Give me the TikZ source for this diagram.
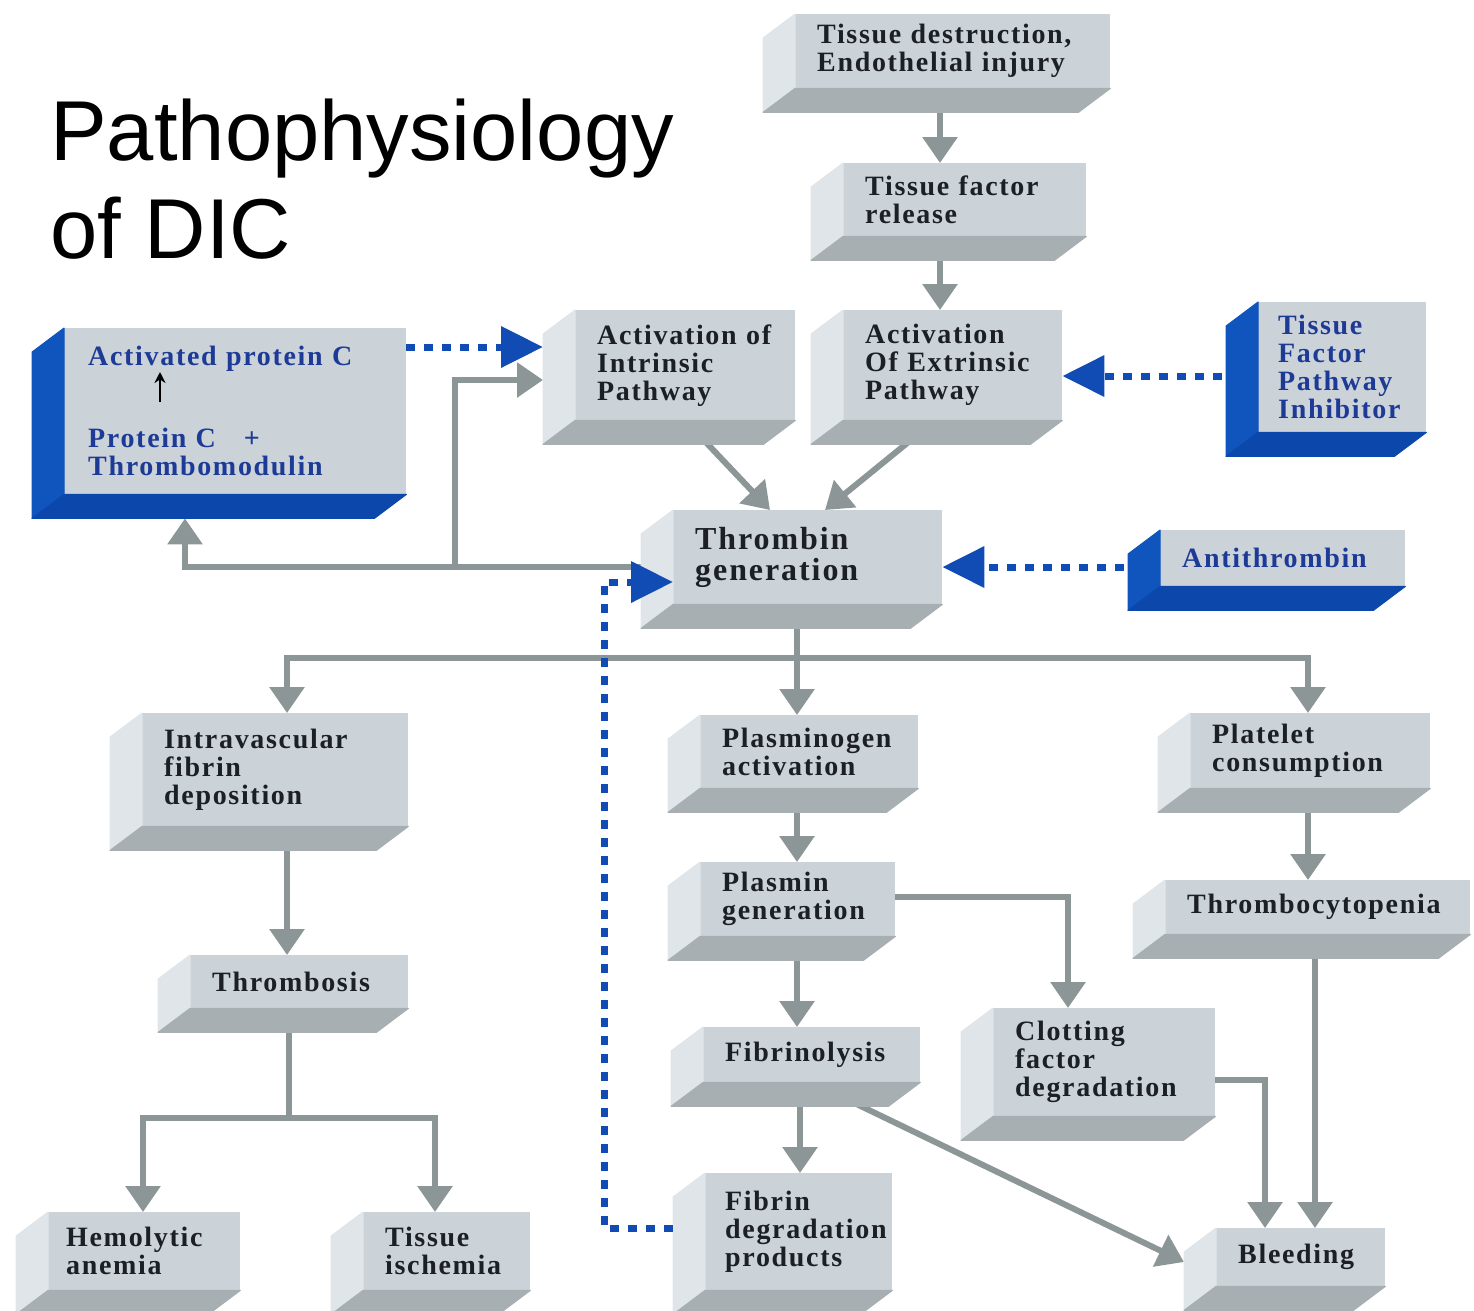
\documentclass[tikz,border=0pt]{standalone}
\usepackage{fontspec}
\setmainfont{Liberation Serif}
\newfontfamily\titlefont{Liberation Sans}
\newfontfamily\boxfont[LetterSpace=6]{Liberation Serif}
\usetikzlibrary{arrows.meta,backgrounds}
\definecolor{front}{RGB}{203,210,216}
\definecolor{sidel}{RGB}{224,229,233}
\definecolor{sideb}{RGB}{168,175,179}
\definecolor{bluebox}{RGB}{16,84,190}
\definecolor{bluebot}{RGB}{12,72,172}
\definecolor{ink}{RGB}{28,32,36}
\definecolor{bink}{RGB}{28,58,150}
\definecolor{link}{RGB}{140,150,150}
\definecolor{dotc}{RGB}{16,76,180}

\begin{document}
\begin{tikzpicture}[x=1pt, y=-1pt,
  blk/.style={rectangle, fill=front, anchor=north west, align=left,
              inner xsep=22pt, inner ysep=0pt, text=ink,
              font=\boxfont\bfseries\fontsize{28}{28}\selectfont},
  bblk/.style={blk, text=bink},
  face/.style={fill=#1, draw=#1, line width=1pt, line join=round},
  gline/.style={draw=link, line width=6pt},
  garrow/.style={gline, -{Triangle[length=26pt,width=34pt]}},
  barrow/.style={draw=dotc, line width=7pt, dash pattern=on 9pt off 9pt,
                 -{Triangle[length=42pt,width=40pt]}},
  ]
  \clip (0,0) rectangle (1474,1310);

  \node[anchor=base west, inner sep=0pt, font=\titlefont\fontsize{85}{98}\selectfont]
        (ttl) at (50,160) {Pathophysiology};
  \node[anchor=base west, inner sep=0pt, font=\titlefont\fontsize{85}{98}\selectfont]
        (ttl2) at (50,258) {of DIC};

  \node[blk, text width=271pt, minimum height=74pt] (td) at (795,14) {Tissue~destruction,\\Endothelial~injury};
  \node[blk, text width=199pt, minimum height=73pt] (tf) at (843,163) {Tissue~factor\\release};
  \node[bblk, inner xsep=24pt, text width=294pt, minimum height=166pt] (apc) at (64,328)
        {Activated~protein~C\\[54pt]Protein~C\quad+\\Thrombomodulin};
  \node[blk, text width=176pt, minimum height=110pt] (ai) at (575,310) {Activation~of\\Intrinsic\\Pathway};
  \node[blk, text width=175pt, minimum height=110pt] (ae) at (843,310) {Activation\\Of~Extrinsic\\Pathway};
  \node[bblk, inner xsep=20pt, text width=128pt, minimum height=130pt] (tfpi) at (1258,302)
        {Tissue\\Factor\\Pathway\\Inhibitor};
  \node[blk, text width=225pt, minimum height=94pt, font=\boxfont\bfseries\fontsize{32}{31}\selectfont]
        (tg) at (673,510) {Thrombin\\generation};
  \node[bblk, text width=201pt, minimum height=56pt] (at) at (1160,530) {Antithrombin};
  \node[blk, text width=222pt, minimum height=113pt] (ivf) at (142,713) {Intravascular\\fibrin\\deposition};
  \node[blk, text width=174pt, minimum height=73pt] (plg) at (700,715) {Plasminogen\\activation};
  \node[blk, text width=196pt, minimum height=75pt] (plt) at (1190,713) {Platelet\\consumption};
  \node[blk, text width=151pt, minimum height=74pt] (pls) at (700,862) {Plasmin\\generation};
  \node[blk, text width=261pt, minimum height=54pt] (tcp) at (1165,880) {Thrombocytopenia};
  \node[blk, text width=174pt, minimum height=53pt] (thr) at (190,955) {Thrombosis};
  \node[blk, text width=173pt, minimum height=55pt] (fib) at (703,1027) {Fibrinolysis};
  \node[blk, text width=178pt, minimum height=108pt] (clt) at (993,1008) {Clotting\\factor\\degradation};
  \node[blk, inner xsep=18pt, text width=156pt, minimum height=78pt] (hem) at (48,1212) {Hemolytic\\anemia};
  \node[blk, text width=123pt, minimum height=78pt] (isc) at (363,1212) {Tissue\\ischemia};
  \node[blk, inner xsep=20pt, text width=147pt, minimum height=117pt] (fdp) at (705,1173) {Fibrin\\degradation\\products};
  \node[blk, text width=125pt, minimum height=58pt] (bld) at (1216,1228) {Bleeding};

  \foreach \b in {td,tf,ai,ae,tg,ivf,plg,plt,pls,tcp,thr,fib,clt,hem,isc,fdp,bld}{
    \filldraw[face=sidel] (\b.north west) -- ++(-32,24) -- ([shift={(-32,24)}]\b.south west) -- (\b.south west) -- cycle;
    \filldraw[face=sideb] (\b.south west) -- ++(-32,24) -- ([shift={(-32,24)}]\b.south east) -- (\b.south east) -- cycle;
  }
  \foreach \b in {apc,tfpi,at}{
    \filldraw[face=bluebox] (\b.north west) -- ++(-32,24) -- ([shift={(-32,24)}]\b.south west) -- (\b.south west) -- cycle;
    \filldraw[face=bluebot] (\b.south west) -- ++(-32,24) -- ([shift={(-32,24)}]\b.south east) -- (\b.south east) -- cycle;
  }

  \coordinate (pcb) at (160,402);
  \coordinate (pct) at (160,372);
  \draw[line width=2.5pt, -{Stealth[length=11pt,width=11pt]}] (pcb) -- (pct);

  \begin{scope}[on background layer]
    \coordinate (tgl) at (455,567);
    \coordinate (tgj) at (797,658);
    \coordinate (thj) at (289,1118);
    \draw[garrow] (td.south -| 940,0) -- (tf.north -| 940,0);
    \draw[garrow] (tf.south -| 940,0) -- (ae.north -| 940,0);
    \draw[garrow] (ai.south) -- (tg.north -| 770,0);
    \draw[garrow] (ae.south -| 935,0) -- (tg.north -| 825,0);
    \draw[garrow] (tg.west |- tgl) -| ([yshift=-24pt]apc.south -| 185,0);
    \draw[garrow] (tgl) |- ([xshift=-32pt]ai.west |- 0,380);
    \draw[gline] (tg.south -| tgj) -- (tgj);
    \draw[garrow] (tgj) -- (plg.north -| tgj);
    \draw[garrow] (tgj) -| (ivf.north -| 287,0);
    \draw[garrow] (tgj) -| (plt.north -| 1308,0);
    \draw[garrow] (ivf.south -| 287,0) -- (thr.north -| 287,0);
    \draw[gline] (thr.south -| thj) -- (thj);
    \draw[garrow] (thj) -| (hem.north -| 143,0);
    \draw[garrow] (thj) -| (isc.north -| 435,0);
    \draw[garrow] (plg.south -| 797,0) -- (pls.north -| 797,0);
    \draw[garrow] (pls.south -| 797,0) -- (fib.north -| 797,0);
    \draw[garrow] (pls.east |- 0,897) -| (clt.north -| 1068,0);
    \draw[garrow] (fib.south -| 800,0) -- (fdp.north -| 800,0);
    \draw[garrow] (fib.south) -- ([xshift=-32pt]bld.west |- 0,1262);
    \draw[garrow] (clt.east |- 0,1080) -| (bld.north -| 1265,0);
    \draw[garrow] (plt.south -| 1308,0) -- (tcp.north -| 1308,0);
    \draw[garrow] (tcp.south -| 1315,0) -- (bld.north -| 1315,0);
    \draw[barrow] (apc.east |- 0,347) -- ([xshift=-32pt]ai.west |- 0,347);
    \draw[barrow] (tfpi.west |- 0,376) -- (ae.east |- 0,376);
    \draw[barrow] (at.west |- 0,567) -- (tg.east |- 0,567);
  \end{scope}

  \draw[barrow] ([xshift=-32pt]fdp.west |- 0,1228) -| ([xshift=-69pt]tg.west |- 0,582) -- (tg.west |- 0,582);
\end{tikzpicture}
\end{document}
